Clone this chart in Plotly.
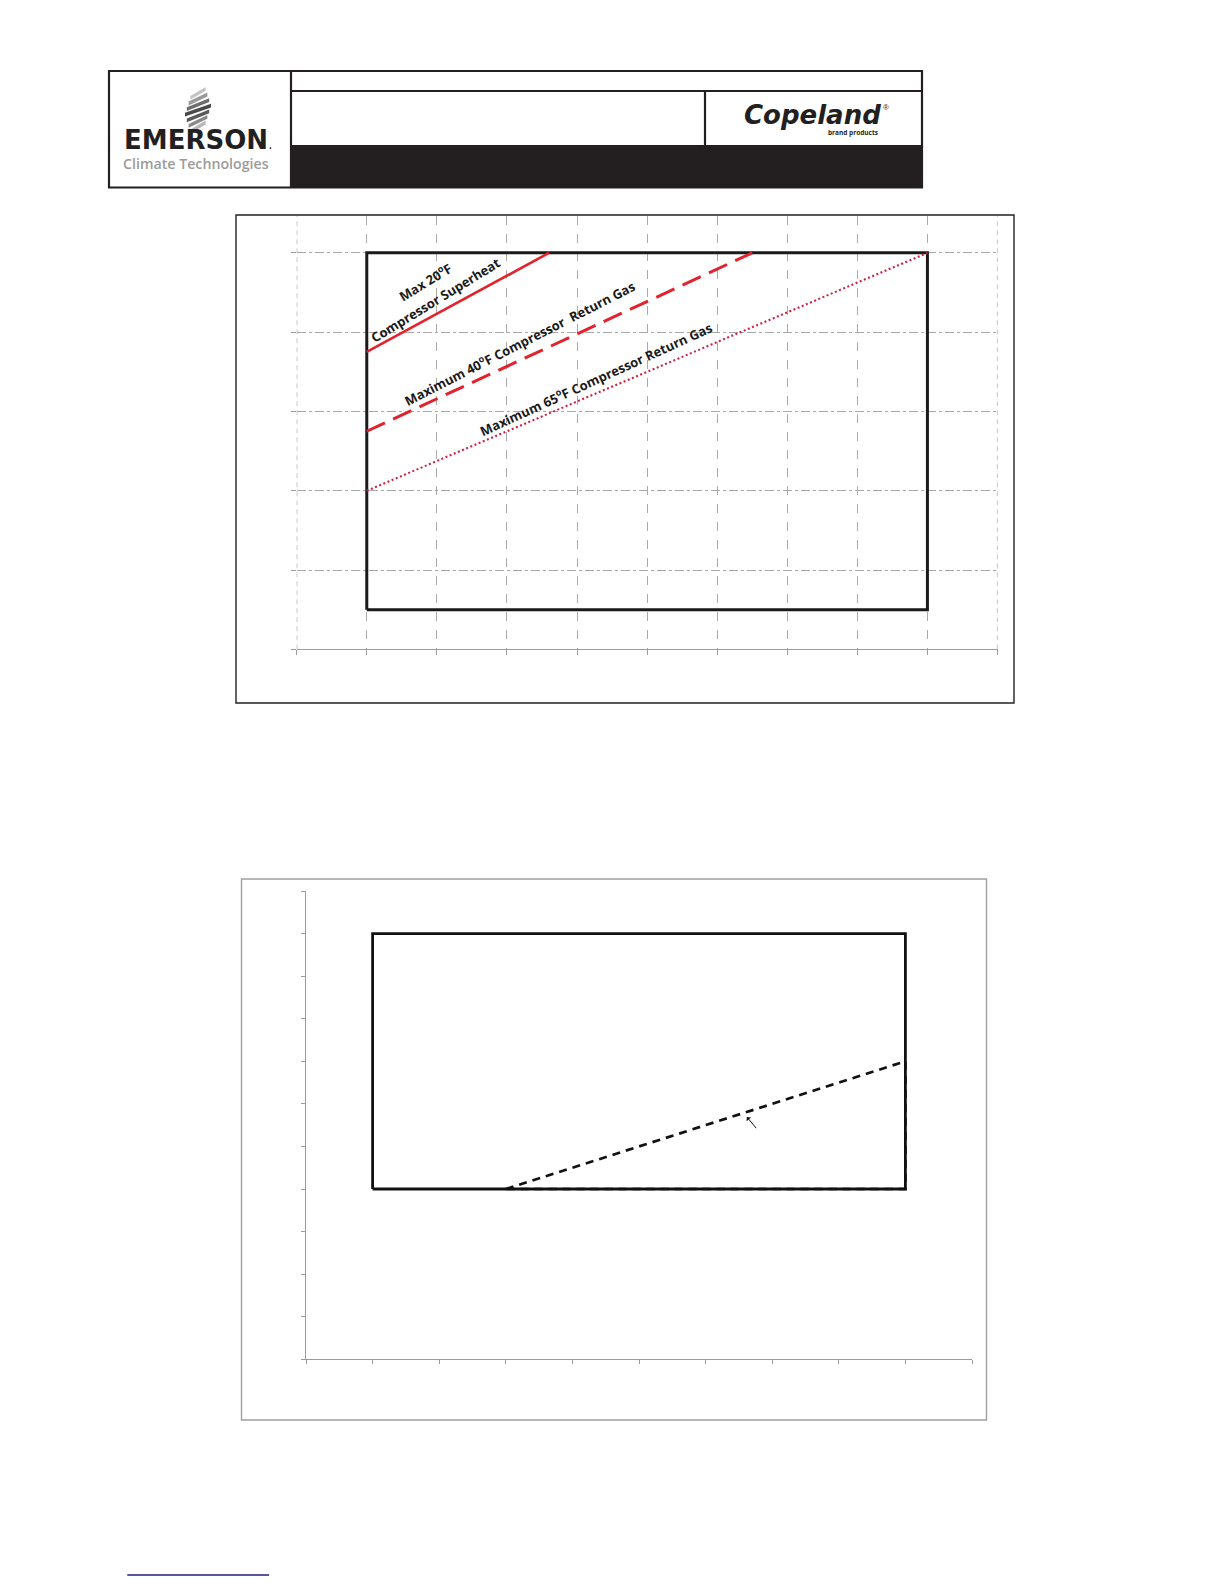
import plotly.graph_objects as go

W, H = 1224, 1584


def X(p):
    return p / W


def Y(p):
    return 1 - p / H


# ---------------- data (top chart: operating envelope, deg F) ----------------
evap_ticks = [-40, -30, -20, -10, 0, 10, 20, 30, 40, 50, 60]
cond_ticks_top = [40, 60, 80, 100, 120, 140]

env_evap = [-30, 50, 50, -30, -30]
env_cond = [50, 50, 140, 140, 50]

sh20_evap = [-30, -4]
sh20_cond = [115, 140]

rg40_evap = [-30, 25]
rg40_cond = [95, 140]

rg65_evap = [-30, 50]
rg65_cond = [80, 140]

# ---------------- data (bottom chart) ----------------
cond_ticks_bot = [0, 10, 20, 30, 40, 50, 60, 70, 80, 90, 100, 110]

env2_evap = [-30, 50, 50, -30, -30]
env2_cond = [40, 40, 100, 100, 40]

lim2_evap = [-10, 50, 50, -10]
lim2_cond = [40, 70, 40, 40]

RED = "#e2232e"
RED_DOT = "#cc2244"
GRID = "#a9a9a9"
AXIS = "#9c9c9c"

fig = go.Figure()

# top chart traces
fig.add_trace(go.Scatter(x=env_evap, y=env_cond, mode="lines",
                         line=dict(color="#1a1a1a", width=3),
                         xaxis="x", yaxis="y", hoverinfo="skip", showlegend=False))
fig.add_trace(go.Scatter(x=sh20_evap, y=sh20_cond, mode="lines",
                         line=dict(color=RED, width=2.6),
                         xaxis="x", yaxis="y", hoverinfo="skip", showlegend=False))
fig.add_trace(go.Scatter(x=rg40_evap, y=rg40_cond, mode="lines",
                         line=dict(color=RED, width=3, dash="20px,9px"),
                         xaxis="x", yaxis="y", hoverinfo="skip", showlegend=False))
fig.add_trace(go.Scatter(x=rg65_evap, y=rg65_cond, mode="lines",
                         line=dict(color=RED_DOT, width=2.1, dash="2px,2.5px"),
                         xaxis="x", yaxis="y", hoverinfo="skip", showlegend=False))

# bottom chart traces
fig.add_trace(go.Scatter(x=env2_evap, y=env2_cond, mode="lines",
                         line=dict(color="#111111", width=2.8),
                         xaxis="x2", yaxis="y2", hoverinfo="skip", showlegend=False))
fig.add_trace(go.Scatter(x=lim2_evap, y=lim2_cond, mode="lines",
                         line=dict(color="#111111", width=2.7, dash="8px,6px"),
                         xaxis="x2", yaxis="y2", hoverinfo="skip", showlegend=False))

common = dict(showticklabels=False, zeroline=False, fixedrange=True,
              linecolor=AXIS, linewidth=1.3,
              ticks="outside", ticklen=5, tickcolor=AXIS, tickwidth=1)

fig.update_layout(
    width=W, height=H, autosize=False,
    margin=dict(l=0, r=0, t=0, b=0),
    paper_bgcolor="white", plot_bgcolor="white",
    xaxis=dict(domain=[X(296.7), X(997.5)], range=[evap_ticks[0], evap_ticks[-1]],
               tickvals=evap_ticks, anchor="y", showline=True,
               showgrid=True, gridcolor=GRID, griddash="dash", gridwidth=1, **common),
    yaxis=dict(domain=[Y(649.3), Y(216)], range=[40, 149.3],
               tickvals=cond_ticks_top, anchor="x", showline=False,
               showgrid=True, gridcolor=GRID, griddash="dashdot", gridwidth=1, **common),
    xaxis2=dict(domain=[X(306), X(972)], range=[evap_ticks[0], evap_ticks[-1]],
                tickvals=evap_ticks, anchor="y2", showline=True, showgrid=False, **common),
    yaxis2=dict(domain=[Y(1359.3), Y(891)], range=[cond_ticks_bot[0], cond_ticks_bot[-1]],
                tickvals=cond_ticks_bot, anchor="x2", showline=True, showgrid=False, **common),
)
fig.update_layout(xaxis2_ticklen=4, yaxis2_ticklen=4)

shapes = []
# edge gridlines of the top chart (plotly drops grid at the range edges)
for xv in (evap_ticks[0], evap_ticks[-1]):
    shapes.append(dict(type="line", xref="x", yref="y domain", x0=xv, x1=xv, y0=0, y1=1,
                       line=dict(color="#a0a0a0", width=1.2, dash="5px,4px"), layer="above"))

# ---------------- header ----------------
shapes.append(dict(type="rect", xref="paper", yref="paper",
                   x0=X(291), x1=X(922), y0=Y(187.5), y1=Y(145),
                   fillcolor="#231f20", line=dict(width=0)))
shapes.append(dict(type="rect", xref="paper", yref="paper",
                   x0=X(109), x1=X(922), y0=Y(187.5), y1=Y(71),
                   line=dict(color="#231f20", width=2.2)))
shapes.append(dict(type="line", xref="paper", yref="paper",
                   x0=X(291), x1=X(291), y0=Y(71), y1=Y(187.5),
                   line=dict(color="#231f20", width=2.2)))
shapes.append(dict(type="line", xref="paper", yref="paper",
                   x0=X(291), x1=X(922), y0=Y(91), y1=Y(91),
                   line=dict(color="#231f20", width=2.2)))
shapes.append(dict(type="line", xref="paper", yref="paper",
                   x0=X(705), x1=X(705), y0=Y(91), y1=Y(145),
                   line=dict(color="#231f20", width=2.2)))

# Emerson icon: stack of slanted grey stripes forming a twisted diamond
stripe_cols = ["#c4c4c4", "#9a9a9a", "#6e6e6e", "#4a4a4a", "#5a5a5a", "#8a8a8a", "#b8b8b8"]
for i, c in enumerate(stripe_cols):
    yt = 87 + i * 5.6
    xl = 185 + abs(3 - i) * 1.8
    xr = 211 - abs(3 - i) * 1.8
    path = (f"M {X(xl)} {Y(yt + 9)} L {X(xr)} {Y(yt)} "
            f"L {X(xr)} {Y(yt + 3.8)} L {X(xl)} {Y(yt + 12.8)} Z")
    shapes.append(dict(type="path", xref="paper", yref="paper", path=path,
                       fillcolor=c, line=dict(width=0)))

# ---------------- chart frames ----------------
shapes.append(dict(type="rect", xref="paper", yref="paper",
                   x0=X(236), x1=X(1014), y0=Y(703), y1=Y(215),
                   line=dict(color="#222222", width=1.4)))
shapes.append(dict(type="rect", xref="paper", yref="paper",
                   x0=X(241.5), x1=X(986.5), y0=Y(1420), y1=Y(879),
                   line=dict(color="#a0a0a0", width=1.4)))
# blue footer underline
shapes.append(dict(type="line", xref="paper", yref="paper",
                   x0=X(127.3), x1=X(269), y0=Y(1575), y1=Y(1575),
                   line=dict(color="#1c1c8a", width=1.5)))

fig.update_layout(shapes=shapes)

LBL = dict(family="Open Sans", size=13, color="#1a1a1a", weight="bold")
ann = []
# header texts
ann.append(dict(xref="paper", yref="paper", x=X(196), y=Y(139.5), text="EMERSON",
                showarrow=False, xanchor="center", yanchor="middle",
                font=dict(family="DejaVu Sans", size=26, color="#231f20", weight="bold")))
ann.append(dict(xref="paper", yref="paper", x=X(270), y=Y(146), text=".",
                showarrow=False, xanchor="center", yanchor="middle",
                font=dict(family="Liberation Sans", size=10, color="#231f20", weight="bold")))
ann.append(dict(xref="paper", yref="paper", x=X(196), y=Y(163), text="Climate Technologies",
                showarrow=False, xanchor="center", yanchor="middle",
                font=dict(family="Open Sans", size=14.2, color="#9b9b9b", weight=600)))
ann.append(dict(xref="paper", yref="paper", x=X(812.5), y=Y(115), text="Copeland",
                showarrow=False, xanchor="center", yanchor="middle",
                font=dict(family="DejaVu Sans", size=26, color="#231f20",
                          weight="bold", style="italic")))
ann.append(dict(xref="paper", yref="paper", x=X(886), y=Y(108), text="®",
                showarrow=False, xanchor="center", yanchor="middle",
                font=dict(family="Liberation Sans", size=8, color="#231f20")))
ann.append(dict(xref="paper", yref="paper", x=X(853), y=Y(133), text="brand products",
                showarrow=False, xanchor="center", yanchor="middle",
                font=dict(family="Open Sans", size=6.5, color="#231f20", weight="bold")))

# curve labels (top chart)
ann.append(dict(xref="paper", yref="paper", x=X(425), y=Y(282), text="Max 20<sup>o</sup>F",
                showarrow=False, xanchor="center", yanchor="middle", textangle=-31.5, font=LBL))
ann.append(dict(xref="paper", yref="paper", x=X(435.5), y=Y(299.5), text="Compressor Superheat",
                showarrow=False, xanchor="center", yanchor="middle", textangle=-31.5, font=LBL))
ann.append(dict(xref="paper", yref="paper", x=X(519.5), y=Y(342.5),
                text="Maximum 40<sup>o</sup>F Compressor  Return Gas",
                showarrow=False, xanchor="center", yanchor="middle", textangle=-27, font=LBL))
ann.append(dict(xref="paper", yref="paper", x=X(595.5), y=Y(378.5),
                text="Maximum 65<sup>o</sup>F Compressor Return Gas",
                showarrow=False, xanchor="center", yanchor="middle", textangle=-24.5, font=LBL))

# arrow in bottom chart
ann.append(dict(xref="x2", yref="y2", x=26.2, y=56.9, text="", showarrow=True,
                ax=10.6, ay=12.6, arrowhead=1, arrowsize=1, arrowwidth=1, arrowcolor="#111111"))

fig.update_layout(annotations=ann)

fig.write_html("out.html", post_script="document.body.style.margin='0';",
               config={"displayModeBar": False})
